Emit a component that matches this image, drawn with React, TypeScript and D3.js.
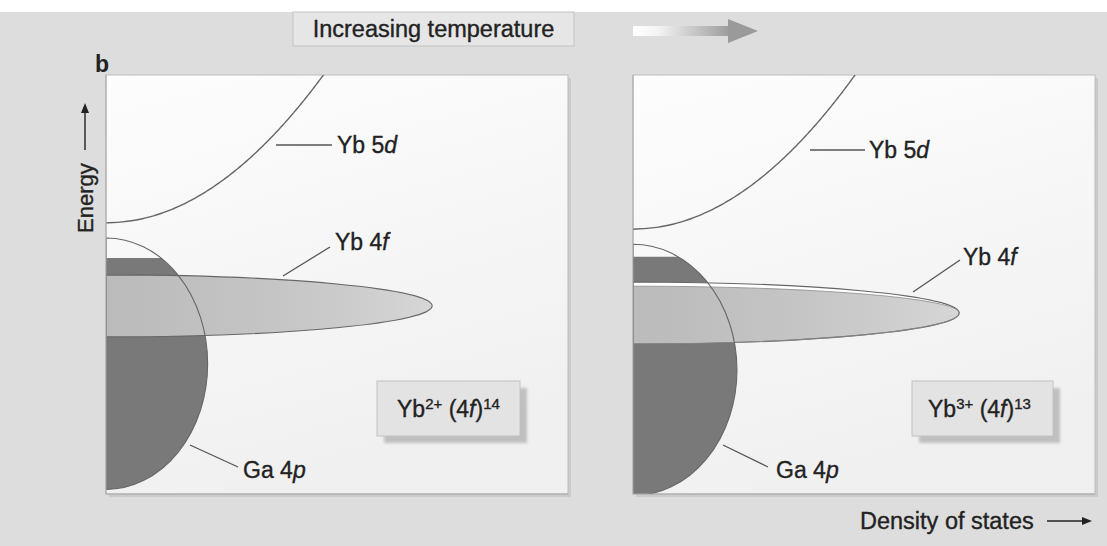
import React from "react";
import * as d3 from "d3";

// Canvas
const W = 1107;
const H = 546;

// Per-panel band parameters (energy and density-of-states in arbitrary units, 0–100)
const ionBase = ["Yb", "Yb"];
const ionCharge = ["2+", "3+"];
const shellFilling = ["14", "13"];

const yb5dOnset = [64.7, 63.2];
const yb5dSlope = [7.92, 7.92];

const ga4pCentre = [31.1, 29.6];
const ga4pHalfWidth = [30.0, 30.0];
const ga4pPeak = [22.0, 22.5];
const ga4pFilledTo = [56.3, 56.6];

const yb4fCentre = [44.9, 43.2];
const yb4fHalfWidth = [7.4, 7.4];
const yb4fPeak = [70.6, 70.6];
const yb4fHole = [0, 1.0];

// Layout
const panelX = [106, 633];
const panelW = 462;
const panelTop = 75;
const panelBottom = 494;

const FONT = "'Liberation Sans', Arial, Helvetica, sans-serif";
const INK = "#222";
const LINE = "#666";

// Annotation offsets relative to panel left edge
const leaders = [
  {
    d5: { x1: 170, y1: 145, x2: 226, y2: 145, tx: 231, ty: 153 },
    f4: { x1: 177, y1: 276, x2: 224, y2: 247, tx: 229, ty: 250 },
    p4: { x1: 84, y1: 445, x2: 132, y2: 467, tx: 137, ty: 478 },
    box: { x: 271, y: 381, w: 143, h: 55, tx: 291, ty: 417 },
  },
  {
    d5: { x1: 177, y1: 150, x2: 232, y2: 150, tx: 236, ty: 158 },
    f4: { x1: 280, y1: 292, x2: 327, y2: 260, tx: 330, ty: 265 },
    p4: { x1: 90, y1: 445, x2: 135, y2: 467, tx: 143, ty: 478 },
    box: { x: 279, y: 381, w: 141, h: 55, tx: 295, ty: 417 },
  },
];

// Half-ellipse anchored on the energy axis, with separate upper / lower semi-axes
function halfEllipse(x0: number, cy: number, rx: number, ryTop: number, ryBot: number) {
  return (
    `M${x0},${cy - ryTop}` +
    `A${rx},${ryTop} 0 0 1 ${x0 + rx},${cy}` +
    `A${rx},${ryBot} 0 0 1 ${x0},${cy + ryBot}Z`
  );
}

const textStyle = { stroke: INK, strokeWidth: 0.35 };

function Panel({ i }: { i: number }) {
  const x0 = panelX[i];
  const x = d3.scaleLinear().domain([0, 100]).range([x0, x0 + panelW]);
  const y = d3.scaleLinear().domain([0, 100]).range([panelBottom, panelTop]);
  const clipId = `clip-${i}`;
  const fermiId = `fermi-${i}`;
  const a = leaders[i];

  // Ga 4p band
  const gaCy = y(ga4pCentre[i]);
  const gaRy = y(ga4pCentre[i] - ga4pHalfWidth[i]) - gaCy;
  const gaRx = x(ga4pPeak[i]) - x(0);
  const gaPath = halfEllipse(x(0), gaCy, gaRx, gaRy, gaRy);

  // Yb 4f band
  const fCy = y(yb4fCentre[i]);
  const fRy = y(yb4fCentre[i] - yb4fHalfWidth[i]) - fCy;
  const fRyFilled = y(yb4fCentre[i] - yb4fHalfWidth[i] + yb4fHole[i]) - fCy;
  const fRx = x(yb4fPeak[i]) - x(0);
  const fOuter = halfEllipse(x(0), fCy, fRx, fRy, fRy);
  const fFilled = halfEllipse(x(0), fCy, fRx, fRyFilled, fRy);

  // Yb 5d band: DOS rises as the square root of energy above the onset
  const energies = d3.range(yb5dOnset[i], 101, 0.25);
  const d5 = d3
    .line<number>()
    .x((e) => x(yb5dSlope[i] * Math.sqrt(e - yb5dOnset[i])))
    .y((e) => y(e))
    .curve(d3.curveBasis)(energies) as string;

  return (
    <g>
      <defs>
        <clipPath id={clipId}>
          <rect x={x0} y={panelTop} width={panelW} height={panelBottom - panelTop} />
        </clipPath>
        <clipPath id={fermiId}>
          <rect x={x0} y={y(ga4pFilledTo[i])} width={panelW} height={panelBottom} />
        </clipPath>
      </defs>
      {/* panel */}
      <rect x={x0 + 3} y={panelTop + 3} width={panelW} height={panelBottom - panelTop} fill="#cbcbcb" />
      <rect
        x={x0}
        y={panelTop}
        width={panelW}
        height={panelBottom - panelTop}
        fill="url(#panelFill)"
        stroke="#bdbdbd"
        strokeWidth={1}
      />
      <g clipPath={`url(#${clipId})`}>
        {/* occupied Ga 4p states */}
        <path d={gaPath} fill="#797979" clipPath={`url(#${fermiId})`} />
        {/* Yb 4f band */}
        <path d={fOuter} fill="#ffffff" />
        <path d={fFilled} fill="url(#fGrad)" />
        <path d={fOuter} fill="none" stroke={LINE} strokeWidth={1.1} />
        {yb4fHole[i] > 0 && <path d={fFilled} fill="none" stroke="#8a8a8a" strokeWidth={0.8} />}
        {/* Ga 4p outline */}
        <path d={gaPath} fill="none" stroke={LINE} strokeWidth={1.1} />
        {/* Yb 5d band */}
        <path d={d5} fill="none" stroke={LINE} strokeWidth={1.4} />
      </g>
      <line x1={x0} y1={panelTop} x2={x0} y2={panelBottom} stroke="#a8a8a8" strokeWidth={1} />
      <line x1={x0} y1={panelBottom} x2={x0 + panelW} y2={panelBottom} stroke="#a8a8a8" strokeWidth={1} />

      {/* labels */}
      <g stroke="#555" strokeWidth={1.3}>
        <line x1={x0 + a.d5.x1} y1={a.d5.y1} x2={x0 + a.d5.x2} y2={a.d5.y2} />
        <line x1={x0 + a.f4.x1} y1={a.f4.y1} x2={x0 + a.f4.x2} y2={a.f4.y2} />
        <line x1={x0 + a.p4.x1} y1={a.p4.y1} x2={x0 + a.p4.x2} y2={a.p4.y2} />
      </g>
      <g fontFamily={FONT} fontSize={23} fill={INK} style={textStyle}>
        <text x={x0 + a.d5.tx} y={a.d5.ty}>
          Yb 5<tspan fontStyle="italic">d</tspan>
        </text>
        <text x={x0 + a.f4.tx} y={a.f4.ty}>
          Yb 4<tspan fontStyle="italic">f</tspan>
        </text>
        <text x={x0 + a.p4.tx} y={a.p4.ty}>
          Ga 4<tspan fontStyle="italic">p</tspan>
        </text>
      </g>

      {/* ion configuration box */}
      <rect x={x0 + a.box.x + 7} y={a.box.y + 7} width={a.box.w} height={a.box.h} fill="#bfbfbf" filter="url(#soft)" />
      <rect x={x0 + a.box.x} y={a.box.y} width={a.box.w} height={a.box.h} fill="#e3e3e3" stroke="#c2c2c2" />
      <text x={x0 + a.box.tx} y={a.box.ty} fontFamily={FONT} fontSize={23} fill={INK} style={textStyle}>
        <tspan>{ionBase[i]}</tspan>
        <tspan dy={-8} fontSize={15}>{ionCharge[i]}</tspan>
        <tspan dy={8}> (4</tspan>
        <tspan fontStyle="italic">f</tspan>
        <tspan>)</tspan>
        <tspan dy={-8} fontSize={15}>{shellFilling[i]}</tspan>
      </text>
    </g>
  );
}

export default function App() {
  return (
    <svg width={W} height={H} style={{ position: "absolute", left: 0, top: 0, display: "block" }}>
      <defs>
        <linearGradient id="panelFill" x1="0" y1="0" x2="0.3" y2="1">
          <stop offset="0" stopColor="#fdfdfd" />
          <stop offset="1" stopColor="#f0f0f0" />
        </linearGradient>
        <linearGradient id="fGrad" x1="0" y1="0" x2="1" y2="0">
          <stop offset="0" stopColor="#a0a0a0" stopOpacity={0.72} />
          <stop offset="0.55" stopColor="#b6b6b6" stopOpacity={0.78} />
          <stop offset="1" stopColor="#d2d2d2" stopOpacity={0.9} />
        </linearGradient>
        <linearGradient id="arrowGrad" x1="0" y1="0" x2="1" y2="0">
          <stop offset="0" stopColor="#ffffff" />
          <stop offset="0.25" stopColor="#f4f4f4" />
          <stop offset="1" stopColor="#9a9a9a" />
        </linearGradient>
        <filter id="soft" x="-10%" y="-10%" width="120%" height="120%">
          <feGaussianBlur stdDeviation="1.5" />
        </filter>
      </defs>

      {/* background */}
      <rect x={0} y={0} width={W} height={H} fill="#dddddd" />
      <rect x={0} y={0} width={W} height={12} fill="#ffffff" />

      {/* temperature banner */}
      <rect x={293} y={12} width={281} height={34} fill="#e6e6e6" stroke="#c4c4c4" />
      <text x={433.5} y={37} textAnchor="middle" fontFamily={FONT} fontSize={23.5} fill={INK} style={textStyle}>
        Increasing temperature
      </text>
      <rect x={633} y={26} width={98} height={10} fill="url(#arrowGrad)" />
      <path d="M728,19 L758,31 L728,43 Z" fill="#9a9a9a" />

      {/* panel tag */}
      <text x={95} y={72} fontFamily={FONT} fontSize={23} fontWeight="bold" fill={INK}>
        b
      </text>

      {/* energy axis label */}
      <text
        transform="translate(93,233) rotate(-90)"
        fontFamily={FONT}
        fontSize={22}
        fill={INK}
        style={textStyle}
      >
        Energy
      </text>
      <line x1={85} y1={150} x2={85} y2={112} stroke={INK} strokeWidth={1.4} />
      <path d="M81,113 L85,103 L89,113 Z" fill={INK} />

      <Panel i={0} />
      <Panel i={1} />

      {/* DOS axis label */}
      <text x={860} y={529} fontFamily={FONT} fontSize={23.5} fill={INK} style={textStyle}>
        Density of states
      </text>
      <line x1={1047} y1={521} x2={1083} y2={521} stroke={INK} strokeWidth={1.4} />
      <path d="M1082,517 L1092,521 L1082,525 Z" fill={INK} />
    </svg>
  );
}
